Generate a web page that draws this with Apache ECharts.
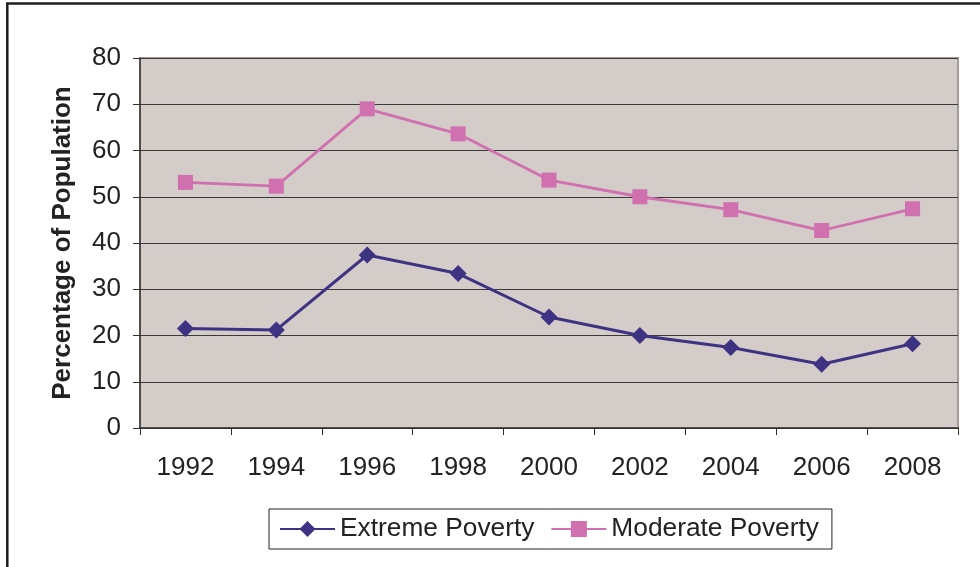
<!DOCTYPE html>
<html>
<head>
<meta charset="utf-8">
<script src="https://cdn.jsdelivr.net/npm/echarts@6/dist/echarts.min.js"></script>
<style>
html,body{margin:0;padding:0;background:#fff;}
#chart{width:980px;height:567px;}
</style>
</head>
<body>
<div id="chart"></div>
<script>
var years = ['1992','1994','1996','1998','2000','2002','2004','2006','2008'];
var extremePoverty = [21.5, 21.2, 37.4, 33.4, 24.0, 20.0, 17.4, 13.8, 18.2];
var moderatePoverty = [53.1, 52.3, 69.0, 63.6, 53.6, 50.0, 47.2, 42.7, 47.4];
var yTicks = [0, 10, 20, 30, 40, 50, 60, 70, 80];

var font = 'Liberation Sans, Arial, sans-serif';
var chart = echarts.init(document.getElementById('chart'));
chart.setOption({
  animation: false,
  backgroundColor: '#ffffff',
  textStyle: { fontFamily: font },
  graphic: [
    { type: 'line', shape: { x1: 6, y1: 3.5, x2: 980, y2: 3.5 }, style: { stroke: '#1e1e1e', lineWidth: 2.5 } },
    { type: 'line', shape: { x1: 7.3, y1: 3, x2: 7.3, y2: 567 }, style: { stroke: '#1e1e1e', lineWidth: 2.5 } }
  ],
  grid: {
    left: 140, right: 22, top: 58, bottom: 139,
    show: true,
    backgroundColor: '#D4CCC9',
    borderColor: '#A39B98',
    borderWidth: 2
  },
  legend: {
    left: 269, top: 509,
    padding: [7, 13, 7, 10],
    borderColor: '#222',
    borderWidth: 1,
    itemWidth: 55,
    itemHeight: 20,
    itemGap: 16,
    textStyle: { fontSize: 26.3, color: '#222', fontFamily: font, padding: [0, 0, 0, 0] },
    data: ['Extreme Poverty', 'Moderate Poverty']
  },
  xAxis: {
    type: 'category',
    data: years,
    boundaryGap: true,
    axisLine: { lineStyle: { color: '#333', width: 1.5 } },
    axisTick: { show: true, length: 7, lineStyle: { color: '#333' } },
    axisLabel: { fontSize: 26, color: '#222', margin: 27, fontFamily: font },
    splitLine: { show: false }
  },
  yAxis: {
    type: 'value',
    min: yTicks[0], max: yTicks[yTicks.length - 1], interval: 10,
    name: 'Percentage of Population',
    nameLocation: 'middle',
    nameGap: 64,
    nameTextStyle: { fontSize: 26, fontWeight: 'bold', color: '#222', fontFamily: font },
    axisLine: { show: true, lineStyle: { color: '#333', width: 1.5 } },
    axisTick: { show: true, length: 7, lineStyle: { color: '#333' } },
    axisLabel: { fontSize: 26, color: '#222', margin: 19, fontFamily: font },
    splitLine: { show: true, lineStyle: { color: '#3a3a3a', width: 1 } }
  },
  series: [
    {
      name: 'Extreme Poverty',
      type: 'line',
      data: extremePoverty,
      symbol: 'diamond',
      symbolSize: [17, 17],
      lineStyle: { color: '#3E3382', width: 3 },
      itemStyle: { color: '#3E3382' }
    },
    {
      name: 'Moderate Poverty',
      type: 'line',
      data: moderatePoverty,
      symbol: 'rect',
      symbolSize: [15, 15],
      lineStyle: { color: '#D070AE', width: 2.8 },
      itemStyle: { color: '#D070AE' }
    }
  ]
});
</script>
</body>
</html>
